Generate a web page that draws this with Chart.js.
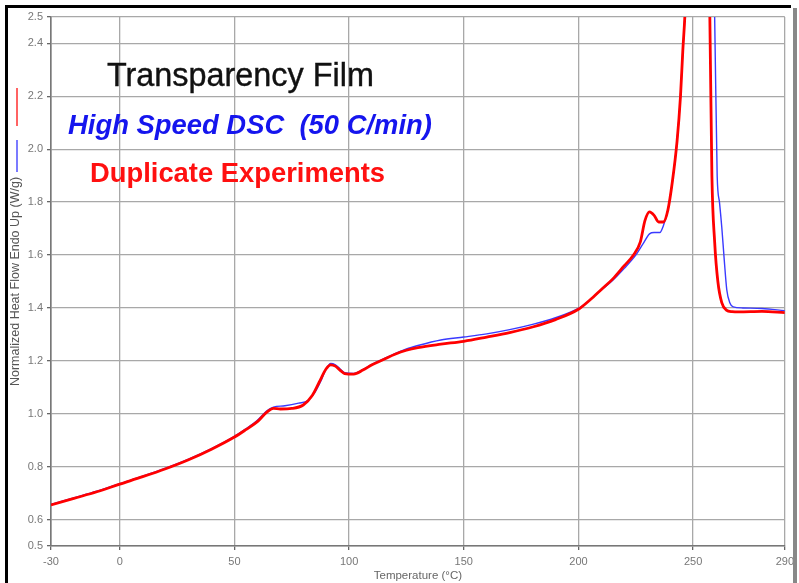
<!DOCTYPE html>
<html>
<head>
<meta charset="utf-8">
<script src="https://cdn.jsdelivr.net/npm/chart.js@4"></script>
<style>
html,body{margin:0;padding:0;background:#fff;}
#wrap{width:799px;height:583px;position:relative;}
</style>
</head>
<body>
<div id="wrap"><canvas id="c" width="799" height="583"></canvas></div>
<script>
// Tick labels
const xTicks = [-30, 0, 50, 100, 150, 200, 250, 290];
const yTicks = [0.5, 0.6, 0.8, 1.0, 1.2, 1.4, 1.6, 1.8, 2.0, 2.2, 2.4, 2.5];

// Run 1 (red)
const tempRed = [-30,-20,-10,0,10,20,30,40,50,55,60,64,67,70,75,80,84,87,90,92,94,96,98,102,106,110,115,120,125,130,140,150,160,170,180,190,200,205,210,215,220,224,227,229,231,233,235,237,239,241,243,244.5,245.5,246.5,248,253,257.3,258.2,259.4,260.8,262.5,264.5,267,270,280,290];
const heatRed = [0.655,0.68,0.705,0.734,0.762,0.792,0.826,0.866,0.912,0.94,0.97,1.005,1.02,1.018,1.02,1.033,1.07,1.12,1.17,1.185,1.18,1.165,1.152,1.15,1.165,1.185,1.205,1.225,1.24,1.25,1.263,1.274,1.29,1.307,1.328,1.356,1.395,1.43,1.47,1.51,1.56,1.60,1.65,1.73,1.763,1.75,1.725,1.725,1.77,1.88,2.03,2.2,2.37,2.52,2.9,4.0,2.5,1.9,1.65,1.5,1.42,1.392,1.386,1.385,1.387,1.382];

// Run 2 (blue)
const tempBlue = [-30,-20,-10,0,10,20,30,40,50,55,60,64,67,72,78,82,85,88,90,92,94,96,98,102,106,110,115,120,125,130,140,150,160,170,180,190,200,205,210,215,220,225,228,231,233,235.5,237,239,241,243,244.5,245.5,246.5,248,254,259.4,260.5,261.5,262.5,263.6,264.7,266,267.5,271.7,280,290];
const heatBlue = [0.657,0.682,0.707,0.736,0.764,0.794,0.828,0.868,0.915,0.943,0.975,1.01,1.025,1.03,1.04,1.05,1.08,1.13,1.17,1.19,1.185,1.17,1.155,1.152,1.167,1.187,1.207,1.227,1.245,1.258,1.279,1.29,1.302,1.318,1.338,1.363,1.398,1.43,1.468,1.505,1.55,1.6,1.64,1.68,1.685,1.685,1.71,1.77,1.88,2.03,2.2,2.37,2.52,2.9,4.0,2.5,1.9,1.8,1.706,1.58,1.468,1.42,1.404,1.40,1.398,1.39];

const toPts = (xs, ys) => xs.map((x, i) => ({x: x, y: ys[i]}));

function fitText(ctx, text, style, family, width, x, y, strokeW) {
  ctx.font = style + ' 20px ' + family;
  const w = ctx.measureText(text).width;
  const size = 20 * width / w;
  ctx.font = style + ' ' + size.toFixed(2) + 'px ' + family;
  ctx.fillText(text, x, y);
  if (strokeW) {
    ctx.lineWidth = strokeW;
    ctx.strokeStyle = ctx.fillStyle;
    ctx.strokeText(text, x, y);
  }
}

const frame = {
  id: 'frame',
  afterDraw(chart) {
    const ctx = chart.ctx;
    ctx.save();
    // outer frame
    ctx.fillStyle = '#000';
    ctx.fillRect(5, 5, 786, 3);
    ctx.fillRect(5, 5, 3, 578);
    ctx.fillStyle = '#888';
    ctx.fillRect(793, 8, 4, 575);
    // legend markers
    ctx.lineWidth = 2;
    ctx.strokeStyle = 'rgba(255,60,60,0.8)';
    ctx.beginPath(); ctx.moveTo(17, 88); ctx.lineTo(17, 126); ctx.stroke();
    ctx.strokeStyle = 'rgba(90,90,255,0.8)';
    ctx.beginPath(); ctx.moveTo(17, 140); ctx.lineTo(17, 172); ctx.stroke();
    // annotations
    const fam = '"Liberation Sans", Arial, sans-serif';
    ctx.textBaseline = 'alphabetic';
    ctx.textAlign = 'left';
    ctx.fillStyle = '#111111';
    fitText(ctx, 'Transparency Film', '', fam, 267, 107, 86, 0.4);
    ctx.fillStyle = '#1515ee';
    fitText(ctx, 'High Speed DSC  (50 C/min)', 'italic bold', fam, 364, 68, 134, 0);
    ctx.fillStyle = '#ff1010';
    fitText(ctx, 'Duplicate Experiments', 'bold', fam, 295, 90, 182, 0);
    ctx.restore();
  }
};

const narrow = '"Liberation Sans Narrow", "Liberation Sans", Arial';

new Chart(document.getElementById('c'), {
  type: 'line',
  data: {
    datasets: [
      {label: 'Run 1', data: toPts(tempRed, heatRed), borderColor: '#ff0000', borderWidth: 2.8, pointRadius: 0, cubicInterpolationMode: 'monotone', order: 0},
      {label: 'Run 2', data: toPts(tempBlue, heatBlue), borderColor: '#3a3aff', borderWidth: 1.4, pointRadius: 0, cubicInterpolationMode: 'monotone', order: 1}
    ]
  },
  options: {
    responsive: false,
    animation: false,
    events: [],
    layout: {padding: {left: 8, top: 17, right: 13, bottom: 0}},
    plugins: {legend: {display: false}, tooltip: {enabled: false}},
    scales: {
      x: {
        type: 'linear', min: -30, max: 290,
        afterBuildTicks(s) { s.ticks = xTicks.map(v => ({value: v})); },
        afterFit(s) { s.height = 37; },
        ticks: {color: '#777', font: {family: narrow, size: 11}, padding: 5, maxRotation: 0, autoSkip: false},
        grid: {color: '#a8a8a8', lineWidth: 1.3, tickLength: 4, tickColor: '#666'},
        border: {color: '#777', width: 1.6},
        title: {display: true, text: 'Temperature (°C)', color: '#666', font: {family: narrow, size: 11.5}, padding: {top: 2, bottom: 0}}
      },
      y: {
        type: 'linear', min: 0.5, max: 2.5,
        afterBuildTicks(s) { s.ticks = yTicks.map(v => ({value: v})); },
        afterFit(s) { s.width = 43; },
        ticks: {color: '#777', font: {family: narrow, size: 11}, padding: 4, autoSkip: false, callback: v => v.toFixed(1)},
        grid: {color: '#a8a8a8', lineWidth: 1.3, tickLength: 4, tickColor: '#666'},
        border: {color: '#777', width: 1.6},
        title: {display: true, text: 'Normalized Heat Flow Endo Up (W/g)', color: '#555', font: {family: narrow, size: 12.5}, padding: {top: 0, bottom: 0}}
      }
    }
  },
  plugins: [frame]
});
</script>
</body>
</html>
